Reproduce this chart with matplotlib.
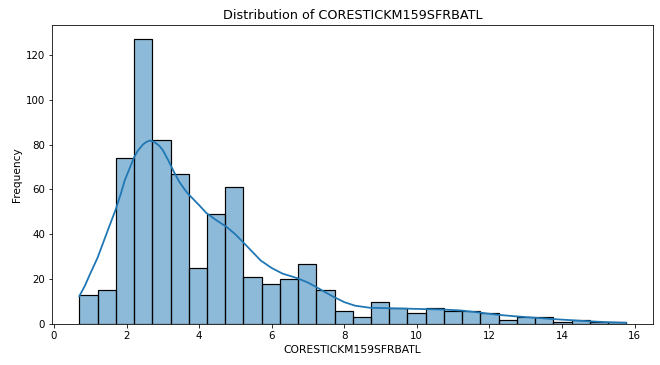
import numpy as np
import matplotlib
matplotlib.use("Agg")
import matplotlib.pyplot as plt

# histogram counts (30 equal bins)
x_min, x_max = 0.70, 15.77
counts = [13, 15, 74, 127, 82, 67, 25, 49, 61, 21,
          18, 20, 27, 15, 6, 3, 10, 7, 5, 7,
          6, 6, 5, 2, 3, 3, 1, 2, 1, 1]

# kde curve (in count units)
kde_x = [0.70, 0.85, 1.0, 1.2, 1.35, 1.5, 1.7, 1.85, 1.95, 2.1, 2.2, 2.3,
         2.45, 2.55, 2.65, 2.75, 2.9, 3.0, 3.15, 3.3, 3.45, 3.6, 3.7,
         4.0, 4.2, 4.5, 4.75, 5.0, 5.2, 5.45, 5.7, 6.0, 6.3, 6.7, 7.0, 7.25,
         7.5, 7.7, 8.0, 8.3, 8.7, 9.2, 9.7, 10.2, 10.7, 11.2, 11.7, 12.2,
         12.7, 13.2, 13.7, 14.2, 14.7, 15.2, 15.77]
kde_y = [12.5, 17, 22.5, 29.5, 36, 42.5, 51, 58.5, 64, 70, 74, 77,
         80, 81.2, 81.8, 81.3, 79.5, 77.5, 73, 68, 63.5, 60, 58,
         53, 49.5, 46, 43.4, 40, 36.7, 32.5, 28.3, 25, 22.5, 20.5, 18.5, 16.3,
         14, 12.2, 9.8, 8.2, 7.3, 7.1, 6.9, 6.7, 6.5, 6.1, 5.2, 4.2,
         3.5, 2.9, 2.3, 1.8, 1.3, 0.9, 0.6]

col_name = "CORESTICKM159SFRBATL"

edges = np.linspace(x_min, x_max, len(counts) + 1)
widths = np.diff(edges)

fig, ax = plt.subplots(figsize=(660 / 72, 365 / 72), dpi=72)
ax.bar(edges[:-1], counts, width=widths, align="edge",
       facecolor=(0.122, 0.467, 0.706, 0.5), edgecolor="black", linewidth=1.2)
ax.plot(kde_x, kde_y, color="#1f77b4", linewidth=1.8)

ax.set_xlim(-0.05, 16.5)
ax.set_title(f"Distribution of {col_name}", fontsize=12.8)
ax.set_xlabel(col_name, fontsize=10.8)
ax.set_ylabel("Frequency", fontsize=10.5)
ax.tick_params(labelsize=10.2)
fig.subplots_adjust(left=0.079, right=0.989, top=0.932, bottom=0.112)
fig.savefig("out.png")
